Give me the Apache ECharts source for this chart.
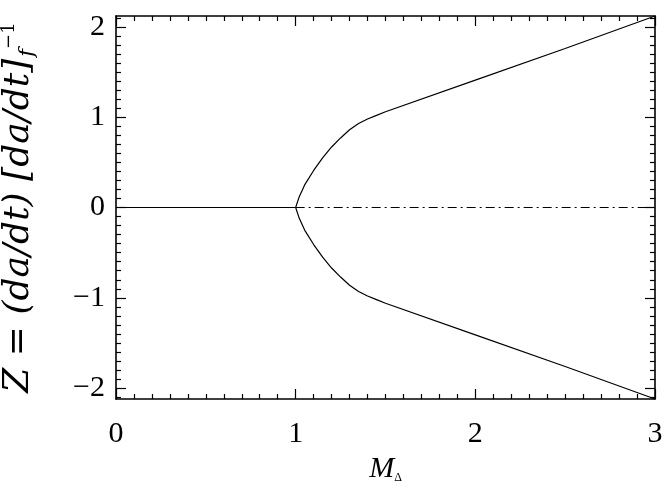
<!DOCTYPE html>
<html>
<head>
<meta charset="utf-8">
<script src="https://cdn.jsdelivr.net/npm/echarts@6/dist/echarts.min.js"></script>
<style>html,body{margin:0;padding:0;background:#fff}#c{width:664px;height:492px}</style>
</head>
<body>
<div id="c"></div>
<script>
// Data
const xRange = [0, 3];
const yRange = [-2.12, 2.12];
const xTicks = [0, 1, 2, 3];
const yTicks = [-2, -1, 0, 1, 2];
const zeroSolidX = [0, 1];
const zeroSolidY = [0, 0];
const zeroDashX = [1, 3];
const zeroDashY = [0, 0];
const upperX = [1, 1.02, 1.05, 1.1, 1.15, 1.2, 1.25, 1.3, 1.35, 1.4, 1.45, 1.5, 2, 2.5, 3];
const upperY = [0, 0.12, 0.25, 0.41, 0.55, 0.67, 0.77, 0.86, 0.93, 0.98, 1.02, 1.06, 1.41, 1.76, 2.12];
const lowerX = [1, 1.02, 1.05, 1.1, 1.15, 1.2, 1.25, 1.3, 1.35, 1.4, 1.45, 1.5, 2, 2.5, 3];
const lowerY = [0, -0.12, -0.25, -0.41, -0.55, -0.67, -0.77, -0.86, -0.93, -0.98, -1.02, -1.06, -1.41, -1.76, -2.12];

const zip = (xs, ys) => xs.map((x, i) => [x, ys[i]]);
const serif = "'Liberation Serif', 'DejaVu Serif', serif";
const black = '#000';

// minor tick positions (every 0.1, skipping the labelled ones)
function minorVals(lo, hi) {
  const out = [];
  for (let k = Math.ceil(lo * 10 - 1e-9); k <= Math.floor(hi * 10 + 1e-9); k++) {
    if (k % 10 !== 0) out.push(k / 10);
  }
  return out;
}
const xMinor = minorVals(xRange[0], xRange[1]);
const yMinor = minorVals(yRange[0], yRange[1]);

const gridRect = { left: 116, right: 9, top: 16, bottom: 93, containLabel: false, outerBoundsMode: 'none' };

function xAx(pos, grid, labels, major) {
  return {
    type: 'value', gridIndex: grid, position: pos, min: xRange[0], max: xRange[1],
    axisLine: { show: major, onZero: false, lineStyle: { color: black, width: 1.6 } },
    axisTick: { show: true, inside: true, length: major ? 10 : 5,
      customValues: major ? xTicks : xMinor, lineStyle: { color: black, width: 1.2 } },
    splitLine: { show: false },
    axisLabel: { show: labels, customValues: xTicks, margin: 20, color: black, fontFamily: serif, fontSize: 30 },
    name: labels ? '{m|M}{d|\u0394}' : '',
    nameLocation: 'middle', nameGap: 54,
    nameTextStyle: { rich: {
      m: { fontFamily: serif, fontStyle: 'italic', fontSize: 30, color: black },
      d: { fontFamily: serif, fontSize: 12, color: black, verticalAlign: 'bottom', padding: [14, 0, 0, 0] }
    } }
  };
}
function yAx(pos, grid, labels, major) {
  return {
    type: 'value', gridIndex: grid, position: pos, min: yRange[0], max: yRange[1],
    axisLine: { show: major, onZero: false, lineStyle: { color: black, width: 1.6 } },
    axisTick: { show: true, inside: true, length: major ? 10 : 5,
      customValues: major ? yTicks : yMinor, lineStyle: { color: black, width: 1.2 } },
    splitLine: { show: false },
    axisLabel: { show: labels, customValues: yTicks, margin: 11, color: black, fontFamily: serif, fontSize: 30,
      formatter: v => (v < 0 ? '\u2212' + Math.abs(v) : String(v)) },
    name: labels ? '{t|Z = (da/dt) [da/dt]}{s|f}{p|\u22121}' : '',
    nameLocation: 'middle', nameGap: 78, nameRotate: 90,
    nameTextStyle: { rich: {
      t: { fontFamily: "'DejaVu Serif', serif", fontStyle: 'italic', fontSize: 36, color: black },
      s: { fontFamily: "'DejaVu Serif', serif", fontStyle: 'italic', fontSize: 21, color: black, verticalAlign: 'bottom', padding: [17, 0, 0, 2] },
      p: { fontFamily: "'DejaVu Serif', serif", fontSize: 18, color: black, verticalAlign: 'top', padding: [0, 0, 17, 0] }
    } }
  };
}

const chart = echarts.init(document.getElementById('c'), null, { renderer: 'canvas' });
const lineStyle = { color: black, width: 1.2 };
chart.setOption({
  animation: false,
  backgroundColor: '#fff',
  grid: [Object.assign({}, gridRect), Object.assign({}, gridRect)],
  xAxis: [xAx('bottom', 0, true, true), xAx('top', 0, false, true), xAx('bottom', 1, false, false), xAx('top', 1, false, false)],
  yAxis: [yAx('left', 0, true, true), yAx('right', 0, false, true), yAx('left', 1, false, false), yAx('right', 1, false, false)],
  series: [
    { type: 'line', data: zip(zeroSolidX, zeroSolidY), showSymbol: false, lineStyle },
    { type: 'line', data: zip(zeroDashX, zeroDashY), showSymbol: false,
      lineStyle: { color: black, width: 1.2, type: [9, 4, 2, 4] } },
    { type: 'line', data: zip(upperX, upperY), showSymbol: false, lineStyle },
    { type: 'line', data: zip(lowerX, lowerY), showSymbol: false, lineStyle }
  ]
});
</script>
</body>
</html>
